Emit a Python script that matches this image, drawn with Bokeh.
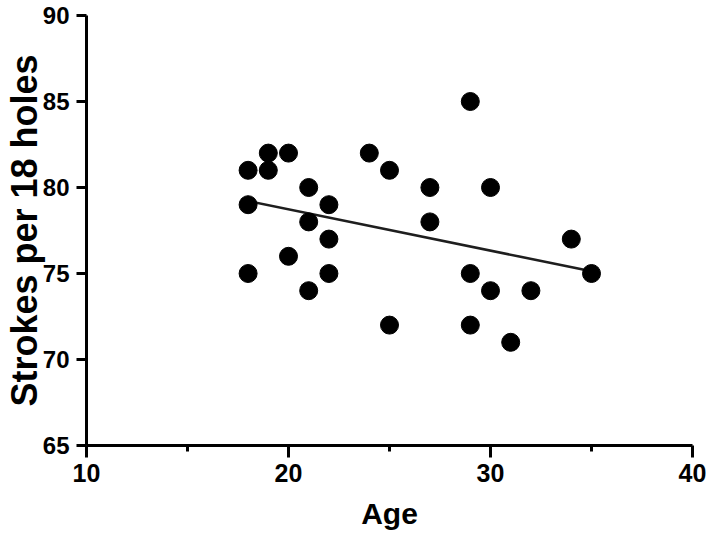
import numpy as np
from bokeh.plotting import figure
from bokeh.models import Range1d, FixedTicker
from bokeh.embed import file_html
from bokeh.resources import INLINE

# Data
age = [18, 18, 18, 19, 19, 20, 20, 21, 21, 21, 22, 22, 22, 24, 25, 25,
       27, 27, 29, 29, 29, 30, 30, 31, 32, 34, 35]
strokes = [81, 79, 75, 82, 81, 82, 76, 80, 78, 74, 79, 77, 75, 82, 81, 72,
           80, 78, 85, 75, 72, 80, 74, 71, 74, 77, 75]

x_ticks = [10, 20, 30, 40]
x_minor_ticks = [15, 25, 35]
y_ticks = [65, 70, 75, 80, 85, 90]

x_title = "Age"
y_title = "Strokes per 18 holes"

FONT = "Liberation Sans"

p = figure(width=708, height=532, output_backend="svg", toolbar_location=None,
           x_range=Range1d(10, 40), y_range=Range1d(65, 90),
           min_border_left=86, min_border_right=16, min_border_top=15,
           min_border_bottom=87)
p.outline_line_color = None
p.xgrid.grid_line_color = None
p.ygrid.grid_line_color = None
p.background_fill_color = "white"
p.border_fill_color = "white"

# linear regression line from the data
slope, intercept = np.polyfit(age, strokes, 1)
xl = [min(age), max(age)]
yl = [slope * v + intercept for v in xl]
p.line(xl, yl, line_color="#1e1e1e", line_width=2.6)

p.scatter(age, strokes, size=18, fill_color="black", line_color="black")

# x axis
xa = p.xaxis[0]
xa.ticker = FixedTicker(ticks=x_ticks, minor_ticks=x_minor_ticks)
xa.axis_line_width = 3
xa.axis_line_color = "black"
xa.major_tick_line_width = 3
xa.major_tick_in = 0
xa.major_tick_out = 12
xa.minor_tick_line_width = 3
xa.minor_tick_in = 0
xa.minor_tick_out = 6
xa.major_label_text_font = FONT
xa.major_label_text_font_style = "bold"
xa.major_label_text_font_size = "25px"
xa.major_label_text_color = "black"
xa.major_label_standoff = 6
xa.axis_label = x_title
xa.axis_label_text_font = FONT
xa.axis_label_text_font_style = "bold"
xa.axis_label_text_font_size = "30px"
xa.axis_label_text_color = "black"
xa.axis_label_standoff = 12

# y axis
ya = p.yaxis[0]
ya.ticker = FixedTicker(ticks=y_ticks, minor_ticks=[])
ya.axis_line_width = 3
ya.axis_line_color = "black"
ya.major_tick_line_width = 3
ya.major_tick_in = 0
ya.major_tick_out = 10
ya.minor_tick_line_color = None
ya.major_label_text_font = FONT
ya.major_label_text_font_style = "bold"
ya.major_label_text_font_size = "24px"
ya.major_label_text_color = "black"
ya.major_label_standoff = 7
ya.axis_label = y_title
ya.axis_label_text_font = FONT
ya.axis_label_text_font_style = "bold"
ya.axis_label_text_font_size = "36px"
ya.axis_label_text_color = "black"
ya.axis_label_standoff = -5

open("out.html", "w").write(file_html(p, INLINE))
